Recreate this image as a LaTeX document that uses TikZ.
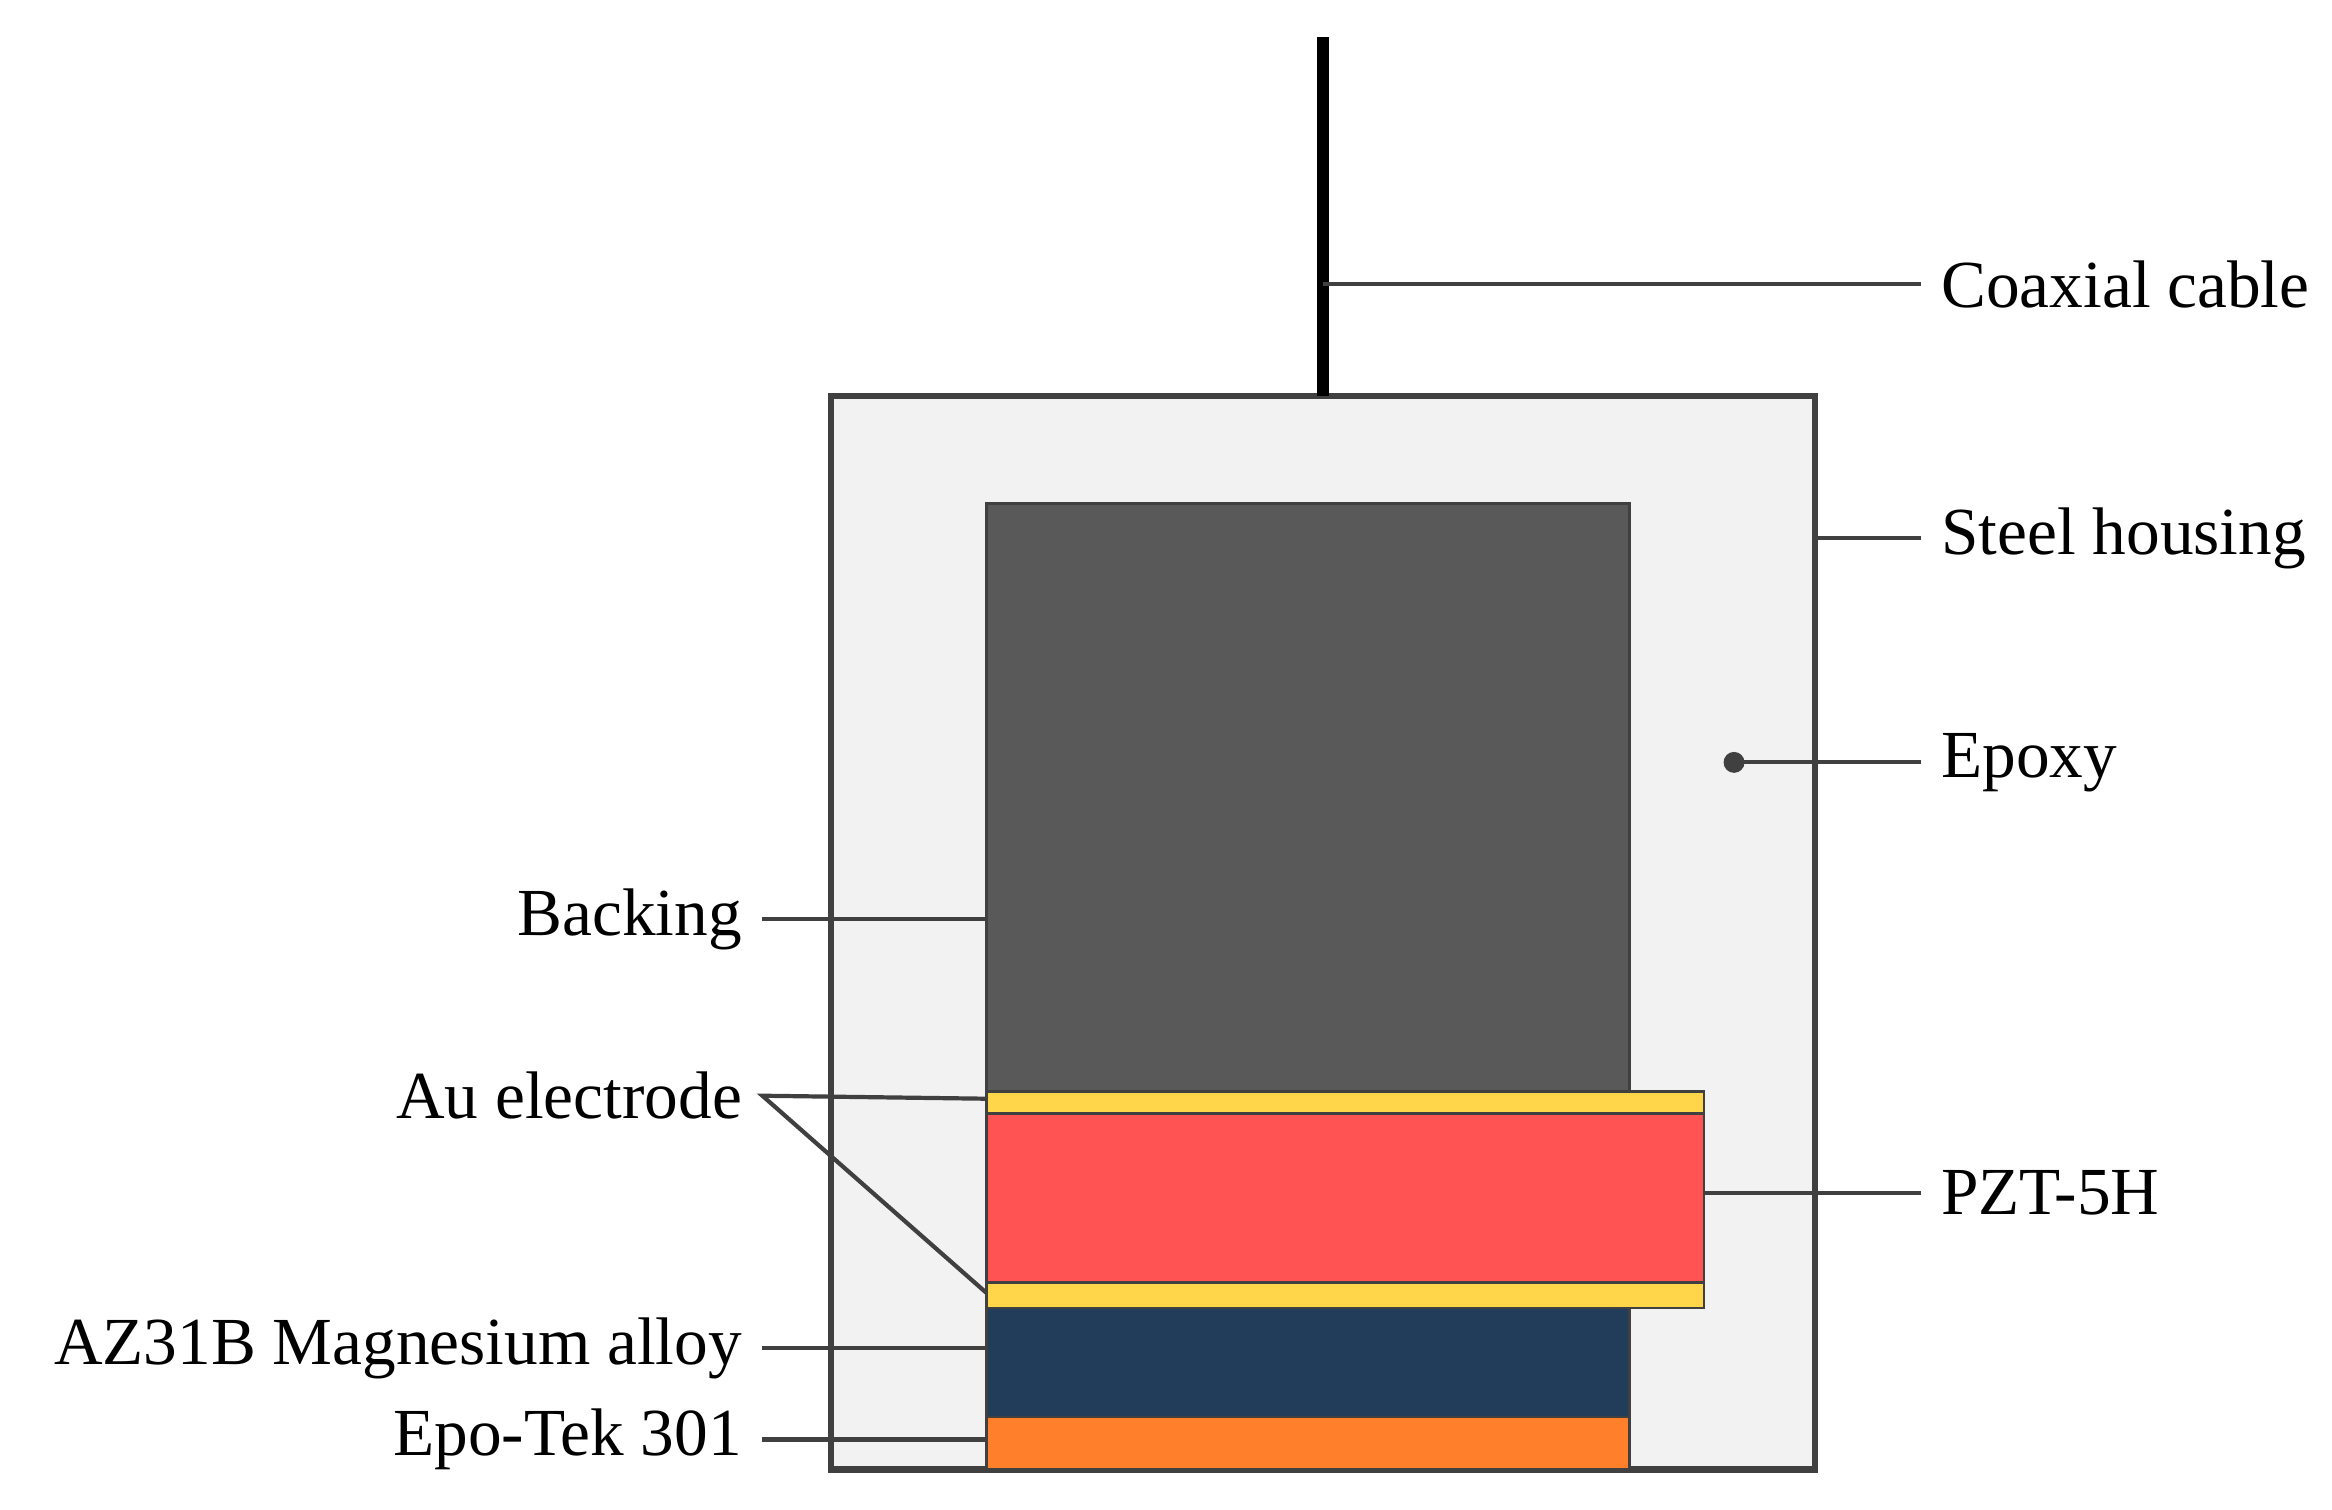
\documentclass[tikz,border=0pt]{standalone}
\usepackage{fontspec}
\setmainfont{Liberation Serif}
\begin{document}
\begin{tikzpicture}[x=0.01cm, y=-0.01cm,
  layer/.style={draw=black!75, line width=0.5pt},
  leader/.style={draw=black!75, line width=0.8pt},
  every node/.style={font=\fontsize{12.8}{15}\selectfont, inner ysep=0pt, inner xsep=3.7pt}]
  \useasboundingbox (0,0) rectangle (1560,1010);
  % housing and cable
  \draw[black!75, line width=1.2pt, fill=black!5] (556,265) rectangle (1214,983);
  \coordinate (cabletop) at (885,25);
  \coordinate (cablebot) at (885,265);
  \draw[line width=2.4pt] (cabletop) -- (cablebot);
  % stack
  \draw[layer, fill=black!65] (660,337) rectangle (1090,730);
  \draw[layer, fill={rgb,255:red,255;green,214;blue,74}] (660,730) rectangle (1140,745);
  \draw[layer, fill={rgb,255:red,255;green,82;blue,82}] (660,745) rectangle (1140,858);
  \draw[layer, fill={rgb,255:red,255;green,214;blue,74}] (660,858) rectangle (1140,875);
  \draw[layer, fill={rgb,255:red,34;green,61;blue,90}] (660,875) rectangle (1090,948);
  \draw[layer, fill={rgb,255:red,255;green,127;blue,42}] (660,948) rectangle (1090,983);
  % anchor points
  \coordinate (cable) at (885,190);
  \coordinate (steel) at (1214,360);
  \coordinate (epoxy) at (1160,510);
  \coordinate (pzt) at (1140,798);
  \coordinate (back) at (660,615);
  \coordinate (autop) at (660,735);
  \coordinate (aubot) at (660,865);
  \coordinate (mg) at (660,902);
  \coordinate (epo) at (660,963);
  % labels right
  \node[anchor=west] (lcable) at (1285,190) {Coaxial cable};
  \node[anchor=west] (lsteel) at (1285,360) {Steel housing};
  \node[anchor=west] (lepoxy) at (1285,510) {Epoxy};
  \node[anchor=west] (lpzt) at (1285,798) {PZT-5H};
  % labels left
  \node[anchor=east] (lback) at (510,615) {Backing};
  \node[anchor=east] (lau) at (510,733) {Au electrode};
  \node[anchor=east] (lmg) at (510,902) {AZ31B Magnesium alloy};
  \node[anchor=east] (lepo) at (510,963) {Epo-Tek 301};
  % leaders
  \draw[leader] (cable) -- (lcable.west);
  \draw[leader] (steel) -- (lsteel.west);
  \fill[black!75] (epoxy) circle (7);
  \draw[leader] (epoxy) -- (lepoxy.west);
  \draw[leader] (pzt) -- (lpzt.west);
  \draw[leader] (lback.east) -- (back);
  \draw[leader] (autop) -- (lau.east) -- (aubot);
  \draw[leader] (lmg.east) -- (mg);
  \draw[leader] (lepo.east) -- (epo);
\end{tikzpicture}
\end{document}
